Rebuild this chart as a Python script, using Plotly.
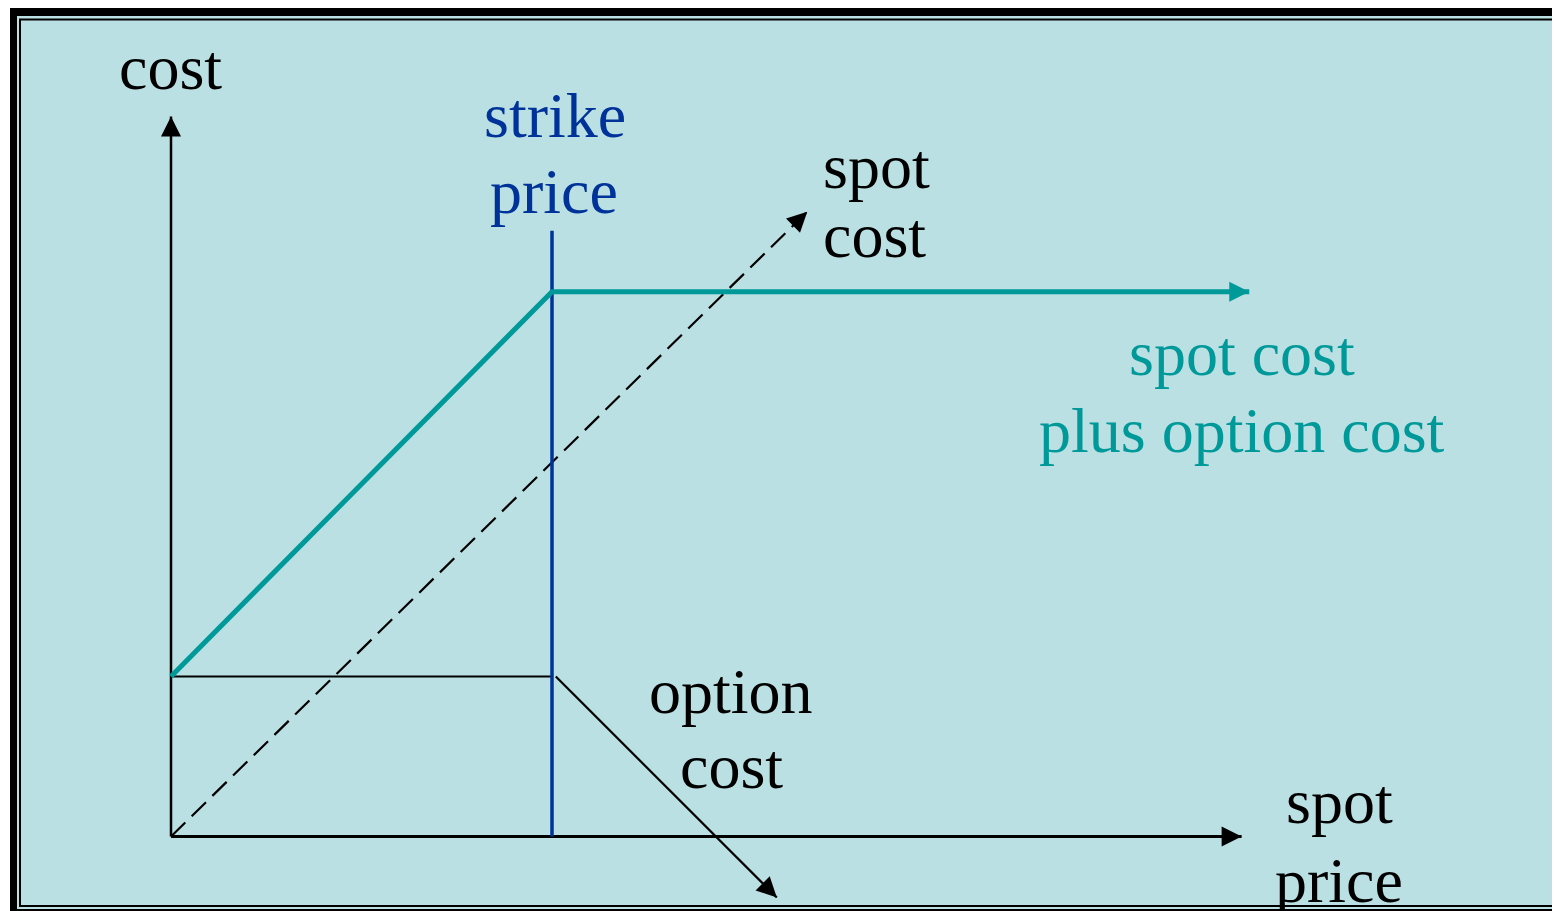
import plotly.graph_objects as go

# ---- diagram values (spot price on x, cost on y) ----
strike = 100
option_cost = 42
spot_axis_x = [0, 281]
cost_axis_y = [0, 189]
strike_line_y = [0, 159]
payoff_x = [0, 100, 283]          # spot cost plus option cost
payoff_y = [42, 143, 143]
spot_cost_x = [0, 167]
spot_cost_y = [0, 164]
option_level_x = [0, 100]
option_line_x = [101, 159]
option_line_y = [42, -16]

OFF = 8                      # page body margin
W, H = 1560 - OFF, 911 - OFF
BG = "#BAE0E3"
TEAL = "#009999"
BLUE = "#003399"
FONT = "Liberation Serif, Times New Roman, serif"
FS = 64

fig = go.Figure()

def line(xs, ys, color, width, dash="solid"):
    fig.add_trace(go.Scatter(x=xs, y=ys, mode="lines",
                             line=dict(color=color, width=width, dash=dash),
                             hoverinfo="skip", showlegend=False))

def head(xs, ys, color, width, size):
    # arrowhead at the last point, oriented along the last segment
    dx = xs[-1] - xs[-2]
    dy = ys[-1] - ys[-2]
    n = (dx * dx + dy * dy) ** 0.5
    L = 16
    fig.add_annotation(x=xs[-1], y=ys[-1], xref="x", yref="y",
                       ax=-L * dx / n, ay=L * dy / n, text="",
                       showarrow=True, arrowhead=2, arrowsize=size,
                       arrowwidth=width, arrowcolor=color, standoff=0)

# axes
line([0, 0], cost_axis_y, "black", 2.5)
head([0, 0], cost_axis_y, "black", 2, 2.0)
line(spot_axis_x, [0, 0], "black", 2.8)
head(spot_axis_x, [0, 0], "black", 2, 2.0)

# option cost level and arrow
line(option_level_x, [option_cost, option_cost], "black", 2.2)
line(option_line_x, option_line_y, "black", 2.2)
head(option_line_x, option_line_y, "black", 2, 2.0)

# spot cost (dashed)
line(spot_cost_x, spot_cost_y, "black", 2.2, dash="20px,9px")
head(spot_cost_x, spot_cost_y, "black", 2, 2.0)

# strike price line
line([strike, strike], strike_line_y, BLUE, 3.5)

# spot cost plus option cost
line(payoff_x, payoff_y, TEAL, 5)
head(payoff_x[-2:], payoff_y[-2:], TEAL, 5, 0.8)

# ---- labels (window pixel positions -> paper) ----
def px2paper(px, py):
    return (px - OFF) / W, 1 - (py - OFF) / H

def label(text, px, baseline, color, xanchor="center"):
    cy = baseline - 0.3375 * FS
    x, y = px2paper(px, cy)
    fig.add_annotation(x=x, y=y, xref="paper", yref="paper",
                       text=text, showarrow=False, xanchor=xanchor,
                       yanchor="middle",
                       font=dict(family=FONT, size=FS, color=color))

label("cost", 170, 89, "black")
label("strike", 555, 137, BLUE)
label("price", 554, 213, BLUE)
label("spot", 821, 188, "black", xanchor="left")
label("cost", 821, 257, "black", xanchor="left")
label("spot cost", 1242, 375, TEAL)
label("plus option cost", 1242, 452, TEAL)
label("option", 731, 713, "black")
label("cost", 731, 788, "black")
label("spot", 1339, 823, "black")
label("price", 1339, 902, "black")

# ---- slide frame ----
def rect(x0, y0, x1, y1, **kw):
    ax0, ay0 = px2paper(x0, y0)
    ax1, ay1 = px2paper(x1, y1)
    fig.add_shape(type="rect", xref="paper", yref="paper",
                  x0=ax0, x1=ax1, y0=ay0, y1=ay1, layer="below", **kw)

rect(10, 8, 1600, 960, fillcolor="black", line=dict(width=0))
rect(17, 16, 1590, 909, fillcolor=BG, line=dict(width=0))
rect(20, 19.5, 1590, 906, fillcolor="rgba(0,0,0,0)", line=dict(color="black", width=2))

# scale: 3.81 px per unit, origin at window pixel (171, 836.5)
s = 3.81
ox, oy = 171 - OFF, 836.5 - OFF
fig.update_layout(
    width=W, height=H, margin=dict(l=0, r=0, t=0, b=0),
    paper_bgcolor="white", plot_bgcolor="rgba(0,0,0,0)",
    xaxis=dict(range=[-ox / s, (W - ox) / s], visible=False, fixedrange=True),
    yaxis=dict(range=[-(H - oy) / s, oy / s], visible=False, fixedrange=True),
    showlegend=False,
)

fig.write_html("out.html")
